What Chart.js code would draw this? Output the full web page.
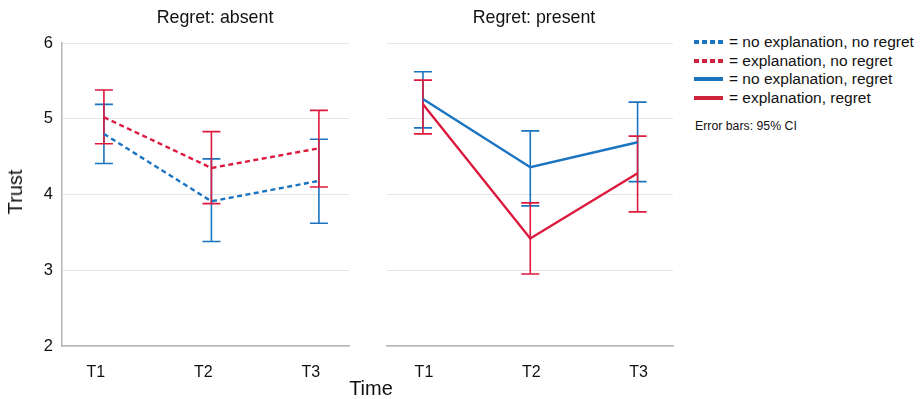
<!DOCTYPE html>
<html>
<head>
<meta charset="utf-8">
<script src="https://cdn.jsdelivr.net/npm/chart.js@4"></script>
<style>
  body { margin: 0; background: #fff; font-family: "Liberation Sans", Arial, sans-serif; color: #111; }
  #wrap { position: relative; width: 924px; height: 399px; overflow: hidden; }
  canvas { position: absolute; top: 0; }
  .lbl { position: absolute; white-space: nowrap; line-height: 1; }
  .legend { position: absolute; left: 694px; top: 33px; font-size: 15.5px; }
  .legend div { height: 18.6px; display: flex; align-items: center; }
  .legend span.s { display: inline-block; width: 29px; height: 4px; margin-right: 6px; }
</style>
</head>
<body>
<div id="wrap">
  <canvas id="absentChart" width="360" height="399" style="left:0"></canvas>
  <canvas id="presentChart" width="320" height="399" style="left:360px"></canvas>
  <div class="lbl" style="left:215px;top:9px;font-size:17.8px;transform:translateX(-50%)">Regret: absent</div>
  <div class="lbl" style="left:534px;top:9px;font-size:17.8px;transform:translateX(-50%)">Regret: present</div>
  <div class="lbl" style="left:371px;top:378px;font-size:20px;transform:translateX(-50%)">Time</div>
  <div class="lbl" style="left:15px;top:192px;font-size:20px;transform:translate(-50%,-50%) rotate(-90deg)">Trust</div>
  <div class="legend">
    <div><span class="s" style="background:repeating-linear-gradient(90deg,#1a74c0 0 5px,transparent 5px 8px)"></span>= no explanation, no regret</div>
    <div><span class="s" style="background:repeating-linear-gradient(90deg,#d0243c 0 5px,transparent 5px 8px)"></span>= explanation, no regret</div>
    <div><span class="s" style="background:#1a74c0"></span>= no explanation, regret</div>
    <div><span class="s" style="background:#d0243c"></span>= explanation, regret</div>
  </div>
  <div class="lbl" style="left:695px;top:120px;font-size:12.3px">Error bars: 95% CI</div>
</div>
<script>
const TIMES = ["T1", "T2", "T3"];
const X_POS = [1, 2, 3];
const Y_TICKS = [2, 3, 4, 5, 6];

// Regret: absent
const absentNoExpl = [4.80, 3.91, 4.18];
const absentNoExplLo = [4.41, 3.38, 3.62];
const absentNoExplHi = [5.19, 4.47, 4.73];
const absentExpl = [5.02, 4.35, 4.61];
const absentExplLo = [4.67, 3.88, 4.10];
const absentExplHi = [5.38, 4.83, 5.11];

// Regret: present
const presentNoExpl = [5.26, 4.36, 4.69];
const presentNoExplLo = [4.88, 3.85, 4.17];
const presentNoExplHi = [5.62, 4.84, 5.22];
const presentExpl = [5.19, 3.42, 4.28];
const presentExplLo = [4.80, 2.95, 3.77];
const presentExplHi = [5.51, 3.89, 4.77];

const BLUE = "#1a74c0";
const RED = "#dc1a3e";

// error bars drawn from each dataset's lo/hi arrays
const errorBars = {
  id: "errorBars",
  beforeDatasetsDraw(chart) {
    const c = chart.ctx;
    const xs = chart.scales.x, ys = chart.scales.y;
    chart.data.datasets.forEach((ds) => {
      c.save();
      c.strokeStyle = ds.borderColor;
      c.lineWidth = 1.6;
      ds.lo.forEach((lo, i) => {
        const px = xs.getPixelForValue(X_POS[i]);
        const y1 = ys.getPixelForValue(lo);
        const y2 = ys.getPixelForValue(ds.hi[i]);
        c.beginPath();
        c.moveTo(px, y1); c.lineTo(px, y2);
        c.moveTo(px - 9, y1); c.lineTo(px + 9, y1);
        c.moveTo(px - 9, y2); c.lineTo(px + 9, y2);
        c.stroke();
      });
      c.restore();
    });
  },
};

function series(vals, lo, hi, color, dashed) {
  return {
    data: vals.map((v, i) => ({ x: X_POS[i], y: v })),
    lo: lo,
    hi: hi,
    borderColor: color,
    borderWidth: 2.4,
    borderDash: dashed ? [5, 3.5] : [],
    pointRadius: 0,
    tension: 0,
  };
}

function makeChart(id, datasets, opts) {
  return new Chart(document.getElementById(id).getContext("2d"), {
    type: "line",
    data: { datasets: datasets },
    plugins: [errorBars],
    options: {
      responsive: false,
      animation: false,
      layout: { padding: { top: 43, right: opts.padRight, left: 0, bottom: 0 } },
      plugins: { legend: { display: false }, tooltip: { enabled: false } },
      scales: {
        x: {
          type: "linear",
          min: opts.xMin,
          max: opts.xMax,
          afterBuildTicks: (s) => { s.ticks = X_POS.map((v) => ({ value: v })); },
          afterFit: (s) => { s.height = 53; },
          grid: { display: false },
          border: { display: true, color: "#b5b5b5", width: 1.5 },
          ticks: {
            callback: (v) => TIMES[X_POS.indexOf(v)],
            font: { size: 16, family: "Liberation Sans" },
            color: "#111",
            padding: 9,
            labelOffset: opts.labelOffset,
            maxRotation: 0,
          },
        },
        y: {
          min: 2,
          max: 6,
          afterBuildTicks: (s) => { s.ticks = Y_TICKS.map((v) => ({ value: v })); },
          afterFit: (s) => { s.width = opts.yWidth; },
          grid: { color: "#e6e6e6", lineWidth: 1, drawTicks: false },
          border: { display: opts.showY, color: "#b5b5b5", width: 1.5 },
          ticks: {
            display: opts.showY,
            font: { size: 16.5, family: "Liberation Sans" },
            color: "#111",
            padding: 9,
          },
        },
      },
    },
  });
}

makeChart("absentChart", [
  series(absentNoExpl, absentNoExplLo, absentNoExplHi, BLUE, true),
  series(absentExpl, absentExplLo, absentExplHi, RED, true),
], { padRight: 11, xMin: 0.61, xMax: 3.28, yWidth: 62, showY: true, labelOffset: -8 });

makeChart("presentChart", [
  series(presentNoExpl, presentNoExplLo, presentNoExplHi, BLUE, false),
  series(presentExpl, presentExplLo, presentExplHi, RED, false),
], { padRight: 7, xMin: 0.665, xMax: 3.33, yWidth: 27, showY: false, labelOffset: 1 });
</script>
</body>
</html>
